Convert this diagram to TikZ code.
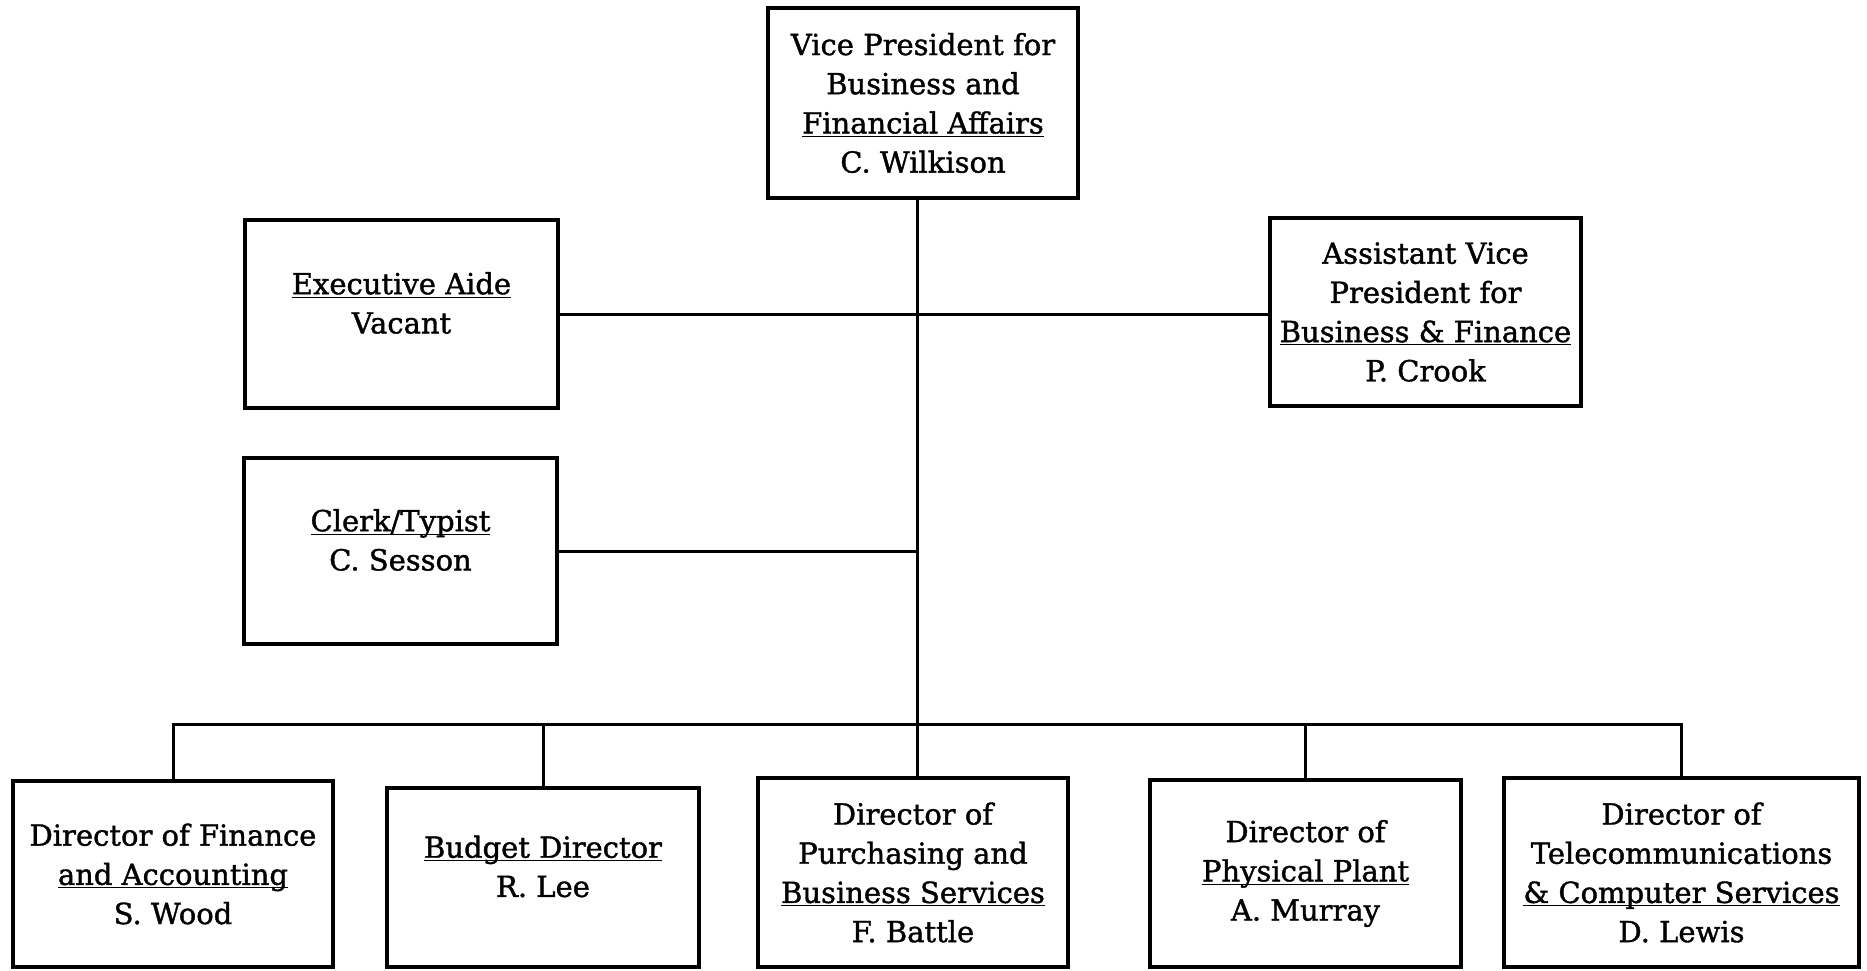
\documentclass[tikz,border=0pt]{standalone}
\usepackage{fontspec}
\setmainfont{DejaVu Serif}[FakeBold=1.3]
\newcommand\myul[1]{\underline{\smash{#1}}}
\begin{document}
\begin{tikzpicture}[x=0.5pt,y=-0.5pt,
  box/.style={draw,line width=1.6pt,rectangle,align=center,inner sep=0pt,
    font=\fontsize{14.5}{19.6}\selectfont},
  link/.style={line width=1.5pt}]
\useasboundingbox (0,0) rectangle (1867,970);
\node[box,minimum width=155pt,minimum height=95pt] (vp) at (923,103)
  {Vice President for\\Business and\\\myul{Financial Affairs}\\C. Wilkison};
\node[box,minimum width=156.5pt,minimum height=94pt] (exec) at (401.5,314)
  {\myul{Executive Aide}\\Vacant};
\node[box,minimum width=155.5pt,minimum height=94pt] (asst) at (1425.5,312)
  {Assistant Vice\\President for\\\myul{Business \& Finance}\\P. Crook};
\node[box,minimum width=156.5pt,minimum height=93pt] (clerk) at (400.5,551)
  {\myul{Clerk/Typist}\\C. Sesson};
\node[box,minimum width=160pt,minimum height=93pt] (fin) at (173,874)
  {Director of Finance\\\myul{and Accounting}\\S. Wood};
\node[box,minimum width=156pt,minimum height=89.5pt] (bud) at (543,877.5)
  {\myul{Budget Director}\\R. Lee};
\node[box,minimum width=155pt,minimum height=94.5pt] (pur) at (913,872.5)
  {Director of\\Purchasing and\\\myul{Business Services}\\F. Battle};
\node[box,minimum width=155.5pt,minimum height=93.5pt] (phy) at (1305.5,873.5)
  {Director of\\\myul{Physical Plant}\\A. Murray};
\node[box,minimum width=177.5pt,minimum height=94.5pt] (tel) at (1681.5,872.5)
  {Director of\\Telecommunications\\\myul{\& Computer Services}\\D. Lewis};
\coordinate (trunk) at ([xshift=2pt]pur.north);
\coordinate (bus) at (917,724);
\draw[link] (trunk |- vp.south) -- (trunk);
\draw[link] (exec.east) -- (exec.east -| asst.west);
\draw[link] (clerk.east) -- (clerk.east -| trunk);
\draw[link] (fin.north) |- (bus) -| (tel.north);
\draw[link] (bud.north) -- (bud.north |- bus);
\draw[link] (phy.north) -- (phy.north |- bus);
\end{tikzpicture}
\end{document}
